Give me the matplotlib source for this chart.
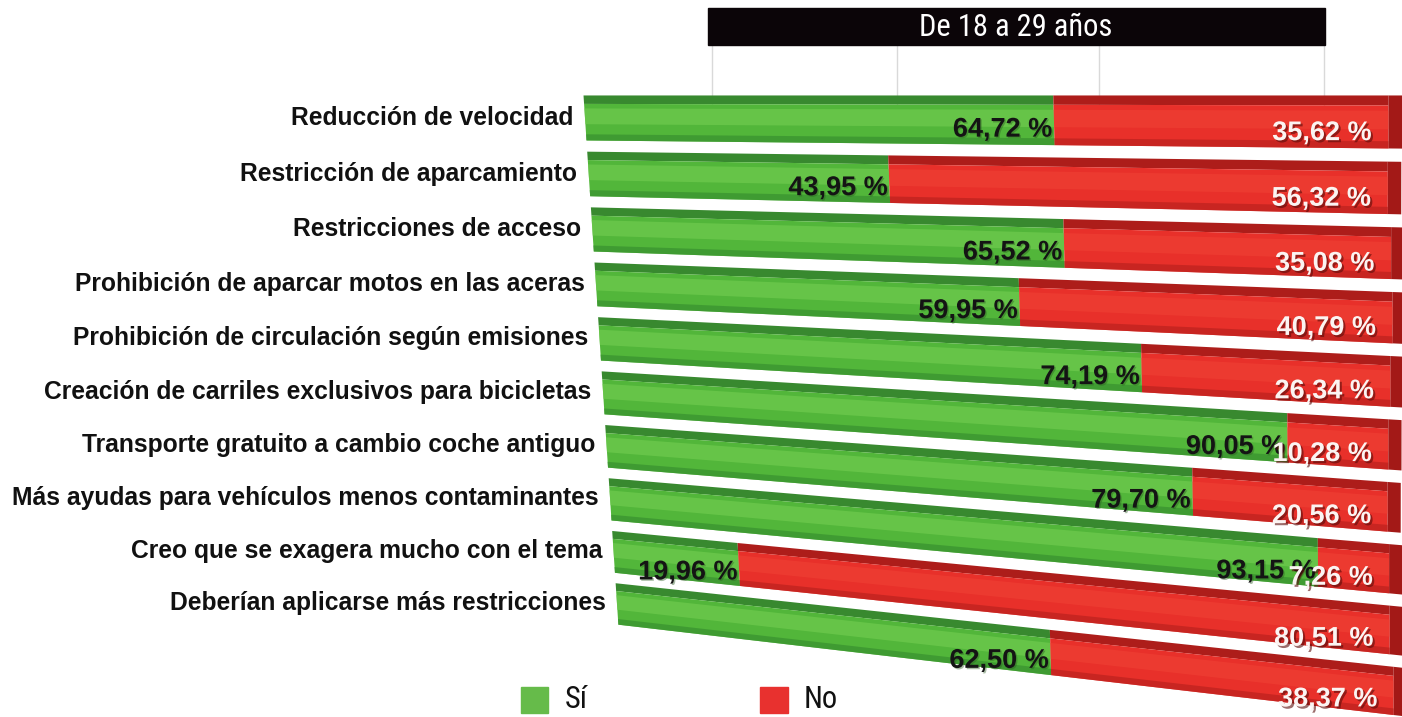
import numpy as np
import matplotlib
matplotlib.use("Agg")
import matplotlib.pyplot as plt
from matplotlib.transforms import Transform
from matplotlib.patches import Rectangle
from matplotlib import font_manager as fm
import matplotlib.patheffects as pe

# Data (Sí / No, % de respuestas, 18-29 años)
categories = [
    "Reducción de velocidad",
    "Restricción de aparcamiento",
    "Restricciones de acceso",
    "Prohibición de aparcar motos en las aceras",
    "Prohibición de circulación según emisiones",
    "Creación de carriles exclusivos para bicicletas",
    "Transporte gratuito a cambio coche antiguo",
    "Más ayudas para vehículos menos contaminantes",
    "Creo que se exagera mucho con el tema",
    "Deberían aplicarse más restricciones",
]
si = [64.72, 43.95, 65.52, 59.95, 74.19, 90.05, 79.70, 93.15, 19.96, 62.50]
no = [35.62, 56.32, 35.08, 40.79, 26.34, 10.28, 20.56, 7.26, 80.51, 38.37]
title = "De 18 a 29 años"

installed = {f.name for f in fm.fontManager.ttflist}
cond = [f for f in ["Roboto Condensed", "Liberation Sans Narrow", "Open Sans Condensed"] if f in installed]
NARROW = cond + ["Liberation Sans", "DejaVu Sans"]
BOLD = ["Liberation Sans", "DejaVu Sans"]
shrink = 1.0 if cond else 0.9


# perspective plane: (percent, row) -> pixel
def homography(src, dst):
    A, b = [], []
    for (u, v), (X, Y) in zip(src, dst):
        A.append([u, v, 1, 0, 0, 0, -u * X, -v * X]); b.append(X)
        A.append([0, 0, 0, u, v, 1, -u * Y, -v * Y]); b.append(Y)
    h = np.linalg.solve(np.array(A, float), np.array(b, float))
    return np.append(h, 1).reshape(3, 3)


class Perspective(Transform):
    input_dims = output_dims = 2

    def __init__(self, H, c=1.1):
        super().__init__()
        self.H = H
        self.c = c

    def transform_non_affine(self, values):
        values = np.atleast_2d(np.asarray(values, float))
        t = values[:, 0] / 100
        u = 100 * t / (t + self.c * (1 - t))  # extra foreshortening along the bars
        p = np.column_stack([u, values[:, 1], np.ones(len(values))]) @ self.H.T
        return p[:, :2] / p[:, 2:3]


n = len(categories)
H = homography([(0, 0), (100, 0), (0, n - 1), (100, n - 1)],
               [(585, 118), (1385, 122), (617, 604), (1385, 690)])

fig = plt.figure(figsize=(14.02, 7.17), dpi=100)
ax = fig.add_axes([0, 0, 1, 1])
ax.set_autoscale_on(False)
ax.set_xlim(0, 1402)
ax.set_ylim(717, 0)
ax.axis('off')
T = Perspective(H) + ax.transData

# title box and faint grid
ax.add_patch(Rectangle((708, 8), 617, 37, color='#0b0508', zorder=5))
ax.text(1016, 27, title, color='white', fontsize=21 * shrink + 1, family=NARROW,
        ha='center', va='center', zorder=6)
ax.vlines([712, 897, 1099, 1324], 45, 110, color='#d9d9d9', lw=1, zorder=0)

green = dict(front='#52b63a', light='#6fcb4e', top='#38892f', shade='#3b9530')
red = dict(front='#e8302a', light='#ef3f33', top='#ad1d1a', shade='#c0231f')
cap = '#a31917'

for i in range(n):
    z = 10 + i * 5
    tot = si[i] + no[i]
    for left, width, c in [(0, si[i], green), (si[i], no[i], red)]:
        ax.barh(i - 0.325, width, left=left, height=0.15, color=c['top'],
                transform=T, zorder=z)
        ax.barh(i + 0.075, width, left=left, height=0.65, color=c['front'],
                transform=T, zorder=z + 1)
        ax.barh(i - 0.03, width, left=left, height=0.28, color=c['light'],
                alpha=0.7, lw=0, transform=T, zorder=z + 2)
        ax.barh(i + 0.345, width, left=left, height=0.11, color=c['shade'],
                alpha=0.8, lw=0, transform=T, zorder=z + 2)
    ax.barh(i, 1.3, left=tot, height=0.8, color=cap, transform=T, zorder=z + 1)

    ax.text(-1.9, i, categories[i], transform=T, ha='right', va='center',
            fontsize=17.7, fontweight='bold', family=BOLD, color='#111111', zorder=60)

fs = 19.5
for i in range(n):
    tot = si[i] + no[i]
    ax.text(si[i] - 0.2, i + 0.15, f"{si[i]:.2f} %".replace('.', ','), transform=T,
            ha='right', va='center', fontsize=fs, fontweight='bold', family=BOLD,
            color='#141414', zorder=80,
            path_effects=[pe.withSimplePatchShadow(offset=(1, -1), shadow_rgbFace='#2a5a20', alpha=0.4)])
    ax.text(tot - 1.6, i + 0.17, f"{no[i]:.2f} %".replace('.', ','), transform=T,
            ha='right', va='center', fontsize=fs, fontweight='bold', family=BOLD,
            color='#fbf4f2', zorder=80,
            path_effects=[pe.withSimplePatchShadow(offset=(1.5, -1.5), shadow_rgbFace='#5a0c0a', alpha=0.6)])

# legend
ax.add_patch(Rectangle((521, 687), 27, 26, color='#66bb4a', zorder=5))
ax.text(565, 700, "Sí", fontsize=20 * shrink + 2, family=NARROW, va='center', color='#111111')
ax.add_patch(Rectangle((760, 687), 28, 26, color='#e8312f', zorder=5))
ax.text(804, 700, "No", fontsize=20 * shrink + 2, family=NARROW, va='center', color='#111111')

fig.savefig("out.png", dpi=100)
